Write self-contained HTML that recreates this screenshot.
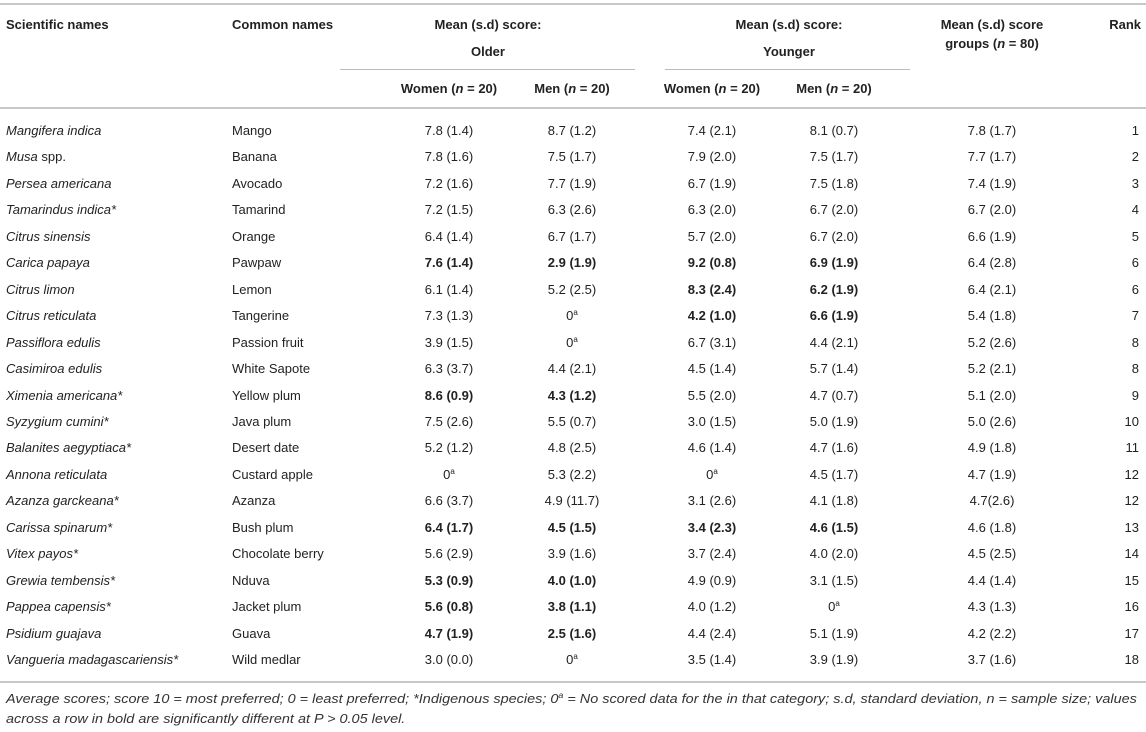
<!DOCTYPE html>
<html><head><meta charset="utf-8"><style>
body{margin:0;width:1146px;height:732px;background:#fff;font-family:"Liberation Sans",Arial,sans-serif;color:#222;position:relative;overflow:hidden}
.t{position:absolute;font-size:13px;line-height:16px;white-space:nowrap}
.c{transform:translateX(-50%)}
.r{transform:translateX(-100%)}
.h{font-weight:bold}
.line{position:absolute;background:#c8c8c8;height:2px}
.thin{position:absolute;background:#bbb;height:1px}
.fn{position:absolute;left:6px;font-size:13px;line-height:16px;font-style:italic;color:#333;white-space:nowrap;transform:scaleX(1.11);transform-origin:0 0}
sup{font-size:8px;line-height:0;vertical-align:5px}
</style></head><body>
<div class="line" style="left:0;top:3px;width:1146px"></div>
<div class="t h" style="left:6px;top:17px">Scientific names</div>
<div class="t h" style="left:232px;top:17px">Common names</div>
<div class="t h c" style="left:488px;top:17px;text-align:center">Mean (s.d) score:</div>
<div class="t h c" style="left:488px;top:44px">Older</div>
<div class="t h c" style="left:789px;top:17px">Mean (s.d) score:</div>
<div class="t h c" style="left:789px;top:44px">Younger</div>
<div class="t h c" style="left:992px;top:17px">Mean (s.d) score</div>
<div class="t h c" style="left:992px;top:36px">groups (<i>n</i> = 80)</div>
<div class="t h r" style="left:1141px;top:17px">Rank</div>
<div class="thin" style="left:340px;top:69px;width:295px"></div>
<div class="thin" style="left:665px;top:69px;width:245px"></div>
<div class="t h c" style="left:449px;top:81px">Women (<i>n</i> = 20)</div>
<div class="t h c" style="left:572px;top:81px">Men (<i>n</i> = 20)</div>
<div class="t h c" style="left:712px;top:81px">Women (<i>n</i> = 20)</div>
<div class="t h c" style="left:834px;top:81px">Men (<i>n</i> = 20)</div>
<div class="line" style="left:0;top:107px;width:1146px"></div>
<div id="rows"></div>
<div class="line" style="left:0;top:681px;width:1146px"></div>
<div class="fn" style="top:691px">Average scores; score 10 = most preferred; 0 = least preferred; *Indigenous species; 0<sup>a</sup> = No scored data for the in that category; s.d, standard deviation, n = sample size; values</div>
<div class="fn" style="top:711px">across a row in bold are significantly different at P &gt; 0.05 level.</div>
<script>
const sci=["Mangifera indica","Musa","Persea americana","Tamarindus indica*","Citrus sinensis","Carica papaya","Citrus limon","Citrus reticulata","Passiflora edulis","Casimiroa edulis","Ximenia americana*","Syzygium cumini*","Balanites aegyptiaca*","Annona reticulata","Azanza garckeana*","Carissa spinarum*","Vitex payos*","Grewia tembensis*","Pappea capensis*","Psidium guajava","Vangueria madagascariensis*"];
const common=["Mango","Banana","Avocado","Tamarind","Orange","Pawpaw","Lemon","Tangerine","Passion fruit","White Sapote","Yellow plum","Java plum","Desert date","Custard apple","Azanza","Bush plum","Chocolate berry","Nduva","Jacket plum","Guava","Wild medlar"];
const olderW=["7.8 (1.4)","7.8 (1.6)","7.2 (1.6)","7.2 (1.5)","6.4 (1.4)","7.6 (1.4)","6.1 (1.4)","7.3 (1.3)","3.9 (1.5)","6.3 (3.7)","8.6 (0.9)","7.5 (2.6)","5.2 (1.2)","0a","6.6 (3.7)","6.4 (1.7)","5.6 (2.9)","5.3 (0.9)","5.6 (0.8)","4.7 (1.9)","3.0 (0.0)"];
const olderM=["8.7 (1.2)","7.5 (1.7)","7.7 (1.9)","6.3 (2.6)","6.7 (1.7)","2.9 (1.9)","5.2 (2.5)","0a","0a","4.4 (2.1)","4.3 (1.2)","5.5 (0.7)","4.8 (2.5)","5.3 (2.2)","4.9 (11.7)","4.5 (1.5)","3.9 (1.6)","4.0 (1.0)","3.8 (1.1)","2.5 (1.6)","0a"];
const youngW=["7.4 (2.1)","7.9 (2.0)","6.7 (1.9)","6.3 (2.0)","5.7 (2.0)","9.2 (0.8)","8.3 (2.4)","4.2 (1.0)","6.7 (3.1)","4.5 (1.4)","5.5 (2.0)","3.0 (1.5)","4.6 (1.4)","0a","3.1 (2.6)","3.4 (2.3)","3.7 (2.4)","4.9 (0.9)","4.0 (1.2)","4.4 (2.4)","3.5 (1.4)"];
const youngM=["8.1 (0.7)","7.5 (1.7)","7.5 (1.8)","6.7 (2.0)","6.7 (2.0)","6.9 (1.9)","6.2 (1.9)","6.6 (1.9)","4.4 (2.1)","5.7 (1.4)","4.7 (0.7)","5.0 (1.9)","4.7 (1.6)","4.5 (1.7)","4.1 (1.8)","4.6 (1.5)","4.0 (2.0)","3.1 (1.5)","0a","5.1 (1.9)","3.9 (1.9)"];
const meanAll=["7.8 (1.7)","7.7 (1.7)","7.4 (1.9)","6.7 (2.0)","6.6 (1.9)","6.4 (2.8)","6.4 (2.1)","5.4 (1.8)","5.2 (2.6)","5.2 (2.1)","5.1 (2.0)","5.0 (2.6)","4.9 (1.8)","4.7 (1.9)","4.7(2.6)","4.6 (1.8)","4.5 (2.5)","4.4 (1.4)","4.3 (1.3)","4.2 (2.2)","3.7 (1.6)"];
const rank=["1","2","3","4","5","6","6","7","8","8","9","10","11","12","12","13","14","15","16","17","18"];
const boldOlder=[5,10,15,17,18,19];
const boldYoung=[5,6,7,15];
const host=document.getElementById('rows');
function cell(txt,x,y,cls,bold){
  const d=document.createElement('div');
  d.className='t '+cls;
  d.style.left=x+'px';d.style.top=y+'px';
  if(bold)d.style.fontWeight='bold';
  if(txt==='0a'){d.innerHTML='0<sup>a</sup>';}else d.textContent=txt;
  host.appendChild(d);return d;
}
for(let i=0;i<sci.length;i++){
  const y=123+i*26.45;
  let e;
  e=cell(sci[i],6,y,'',false);e.style.fontStyle='italic';
  if(i===1){e.innerHTML='Musa <span style="font-style:normal">spp.</span>';}
  
  
  e=cell(common[i],232,y,'',false);
  
  
  e=cell(olderW[i],449,y,'c',boldOlder.includes(i));
  
  
  e=cell(olderM[i],572,y,'c',boldOlder.includes(i));
  
  
  e=cell(youngW[i],712,y,'c',boldYoung.includes(i));
  
  
  e=cell(youngM[i],834,y,'c',boldYoung.includes(i));
  
  
  e=cell(meanAll[i],992,y,'c',false);
  
  
  e=cell(rank[i],1139,y,'r',false);
  
  
}
</script>
</body></html>
